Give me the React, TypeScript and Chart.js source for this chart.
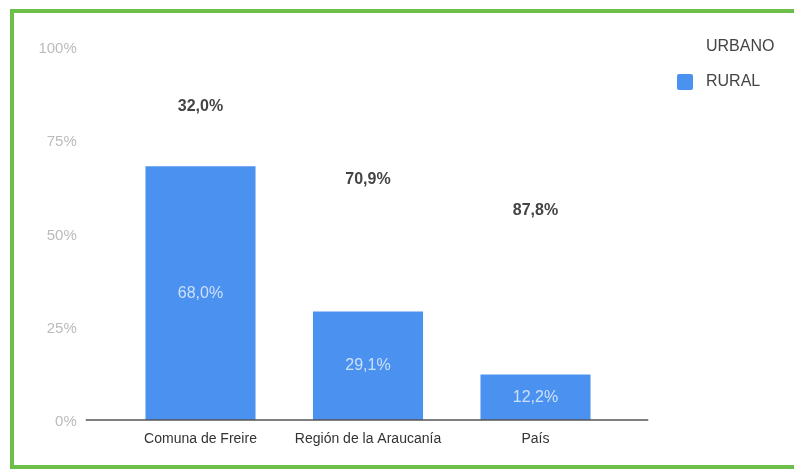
import React, { useEffect, useRef } from "react";
import { Chart, registerables } from "chart.js";

Chart.register(...registerables);

const categories = ["Comuna de Freire", "Región de la Araucanía", "País"];
const urbanoValues = [32.0, 70.9, 87.8];
const ruralValues = [68.0, 29.1, 12.2];
const yTicks = [0, 25, 50, 75, 100];

const BLUE = "#4b91ef";
const FONT = "'Liberation Sans', Arial, sans-serif";

const fmt = (v: number) => v.toFixed(1).replace(".", ",") + "%";

const labelPlugin = {
  id: "barLabels",
  afterDatasetsDraw(chart: any) {
    const ctx = chart.ctx;
    ctx.save();
    ctx.textAlign = "center";
    ctx.textBaseline = "middle";
    chart.data.datasets.forEach((ds: any, di: number) => {
      const meta = chart.getDatasetMeta(di);
      const isUrbano = ds.label === "URBANO";
      meta.data.forEach((bar: any, i: number) => {
        const v = ds.data[i];
        const y = (bar.y + bar.base) / 2;
        if (isUrbano) {
          ctx.font = `bold 16px ${FONT}`;
          ctx.fillStyle = "#444444";
        } else {
          ctx.font = `16px ${FONT}`;
          ctx.fillStyle = "rgba(255,255,255,0.72)";
        }
        ctx.fillText(fmt(v), bar.x, y);
      });
    });
    ctx.restore();
  },
};

const baselinePlugin = {
  id: "baseline",
  afterDatasetsDraw(chart: any) {
    const { ctx, chartArea, scales } = chart;
    const y = scales.y.getPixelForValue(0);
    ctx.save();
    ctx.strokeStyle = "#555555";
    ctx.lineWidth = 1.5;
    ctx.beginPath();
    ctx.moveTo(chartArea.left - 31, y);
    ctx.lineTo(chartArea.right + 29, y);
    ctx.stroke();
    ctx.restore();
  },
};

export default function App() {
  const ref = useRef<HTMLCanvasElement | null>(null);

  useEffect(() => {
    if (!ref.current) return;
    Chart.defaults.font.family = FONT;
    const chart = new Chart(ref.current, {
      type: "bar",
      data: {
        labels: categories,
        datasets: [
          {
            label: "RURAL",
            data: ruralValues,
            backgroundColor: BLUE,
            categoryPercentage: 1,
            barPercentage: 0.657,
            stack: "s",
          },
          {
            label: "URBANO",
            data: urbanoValues,
            backgroundColor: "rgba(0,0,0,0)",
            categoryPercentage: 1,
            barPercentage: 0.657,
            stack: "s",
          },
        ],
      },
      options: {
        animation: false,
        responsive: false,
        layout: { padding: { top: 47, right: 174.75, left: 0, bottom: 0 } },
        plugins: {
          legend: { display: false },
          tooltip: { enabled: false },
        },
        scales: {
          x: {
            stacked: true,
            grid: { display: false },
            border: { display: false },
            ticks: {
              color: "#333333",
              font: { size: 14, family: FONT },
              padding: 3,
              maxRotation: 0,
            },
            afterFit: (s: any) => {
              s.height = 51;
            },
          },
          y: {
            stacked: true,
            min: 0,
            max: 100,
            grid: { display: false },
            border: { display: false },
            afterBuildTicks: (s: any) => {
              s.ticks = yTicks.map((v) => ({ value: v }));
            },
            ticks: {
              color: "#bbbbbb",
              font: { size: 15, family: FONT },
              padding: 32,
              labelOffset: 2,
              callback: (v: any) => v + "%",
            },
            afterFit: (s: any) => {
              s.width = 116.75;
            },
          },
        },
      },
      plugins: [labelPlugin, baselinePlugin],
    } as any);
    return () => chart.destroy();
  }, []);

  return (
    <div
      style={{
        position: "absolute",
        left: 0,
        top: 0,
        width: 794,
        height: 471,
        overflow: "hidden",
        background: "#ffffff",
        fontFamily: FONT,
      }}
    >
      <canvas
        ref={ref}
        width={794}
        height={471}
        style={{ position: "absolute", left: 0, top: 0, width: 794, height: 471 }}
      />
      <div
        style={{
          position: "absolute",
          left: 10,
          top: 9,
          width: 800,
          height: 460,
          boxSizing: "border-box",
          border: "4px solid #6cc04a",
          pointerEvents: "none",
        }}
      />
      <div
        style={{
          position: "absolute",
          left: 706,
          top: 38,
          fontSize: 16,
          lineHeight: "16px",
          color: "#444444",
        }}
      >
        URBANO
      </div>
      <div
        style={{
          position: "absolute",
          left: 677,
          top: 74,
          width: 16,
          height: 16,
          borderRadius: 2,
          background: BLUE,
        }}
      />
      <div
        style={{
          position: "absolute",
          left: 706,
          top: 73,
          fontSize: 16,
          lineHeight: "16px",
          color: "#444444",
        }}
      >
        RURAL
      </div>
    </div>
  );
}
